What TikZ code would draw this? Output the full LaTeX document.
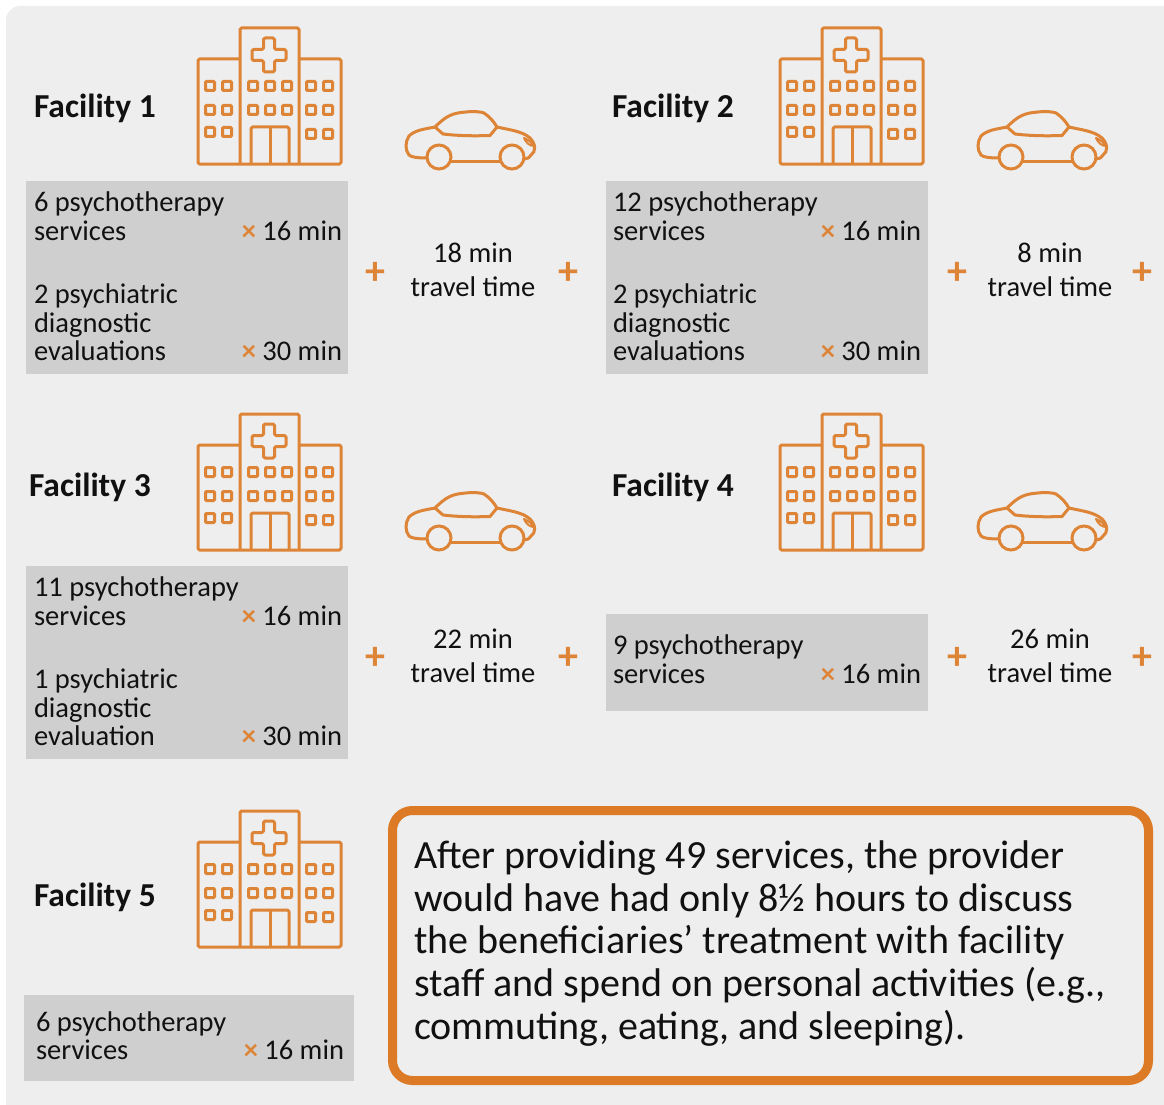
\documentclass[tikz,border=0pt]{standalone}
\usepackage{fontspec}
\setmainfont[Ligatures=TeX]{Carlito}
\definecolor{orng}{HTML}{DD8436}
\definecolor{callout}{HTML}{DC7A26}
\definecolor{panel}{HTML}{EEEEEE}
\definecolor{greybox}{HTML}{CFCFCF}
\definecolor{ink}{HTML}{111111}
\tikzset{
  x=1pt,y=-1pt,
  icon/.style={draw=orng,line width=3pt,line join=round,rounded corners=1.5pt,fill=none},
  winbox/.style={draw=orng,line width=3pt,rounded corners=1pt},
  greyrect/.style={fill=greybox,draw=none},
  bodytext/.style={inner sep=0pt,outer sep=0pt,anchor=base west,yshift=-1pt,font=\fontsize{28.5}{28.5}\selectfont,text=ink},
  mintext/.style={inner sep=0pt,outer sep=0pt,anchor=base east,yshift=-1pt,font=\fontsize{28.5}{28.5}\selectfont,text=ink},
  travel/.style={inner sep=0pt,outer sep=0pt,anchor=base,font=\fontsize{28.5}{34}\selectfont,text=ink},
  factitle/.style={inner sep=0pt,outer sep=0pt,anchor=base west,yshift=-1.5pt,font=\fontsize{33.5}{34}\selectfont\bfseries,text=ink},
  plussign/.style={inner sep=0pt,outer sep=0pt,yshift=-1pt,font=\fontsize{40}{40}\selectfont\bfseries,text=orng},
  calloutbox/.style={draw=callout,line width=9pt,rounded corners=20pt,fill=panel},
  callouttext/.style={inner sep=0pt,outer sep=0pt,anchor=base west,yshift=-1pt,font=\fontsize{40}{42.7}\selectfont,text=ink},
}
\newcommand{\hospitalicon}[2]{%
  \begin{scope}[shift={(#1,#2)}]
    \draw[icon] (240,59) -- (198,59) -- (198,164) -- (341,164) -- (341,59) -- (299,59);
    \draw[icon] (240,164) -- (240,28) -- (299,28) -- (299,164);
    \draw[icon] (263.5,38) -- (274.5,38) -- (274.5,49.5) -- (286,49.5) -- (286,60.5) -- (274.5,60.5) -- (274.5,72) -- (263.5,72) -- (263.5,60.5) -- (252,60.5) -- (252,49.5) -- (263.5,49.5) -- cycle;
    \foreach \wx in {210,227,253,270,287,311,328}
      \foreach \wy in {86,110} \draw[winbox] (\wx-4.5,\wy-4.5) rectangle (\wx+4.5,\wy+4.5);
    \foreach \wx in {210,227} \draw[winbox] (\wx-4.5,127.5) rectangle (\wx+4.5,136.5);
    \foreach \wx in {311,328} \draw[winbox] (\wx-4.5,129.5) rectangle (\wx+4.5,138.5);
    \draw[icon] (251,164) -- (251,127) -- (289,127) -- (289,164);
    \draw[icon] (270,127) -- (270,164);
  \end{scope}}
\newcommand{\caricon}[2]{%
  \begin{scope}[shift={(#1,#2)}]
    \draw[orng,line width=3pt,line join=round,line cap=round]
      (427,158) .. controls (417,158) and (411,157) .. (409,155)
      .. controls (405,150) and (405,142) .. (409,136)
      .. controls (415,130) and (425,129) .. (435,127)
      .. controls (446,116) and (452,113) .. (466,112)
      .. controls (474,111) and (482,112) .. (484,113)
      .. controls (490,117) and (494,122) .. (497,127)
      .. controls (510,130) and (522,131) .. (530,138)
      .. controls (536,144) and (536,152) .. (531,155)
      .. controls (529,158) and (527,159) .. (524,159);
    \draw[orng,line width=3pt,line cap=round] (451,161) -- (500,161);
    \draw[orng,line width=3pt,line join=round] (435,127) -- (443,134) .. controls (460,136) and (475,136) .. (490,135.5) -- (497,127);
    \draw[orng,line width=2pt,line cap=round] (524,138) .. controls (529,140) and (532,143) .. (534,146) .. controls (530,146) and (526,143) .. (524,138);
    \draw[orng,line width=3pt] (439,157) circle (12) (512,157) circle (12);
  \end{scope}}
\newcommand{\orngx}{{\color{orng}\textbf{×}}}
\begin{document}
\begin{tikzpicture}
\useasboundingbox (0,0) rectangle (1164,1105);
\fill[white] (0,0) rectangle (1164,1105);
\fill[panel,rounded corners=14pt] (6,6) rectangle (1190,1130);
\fill[white] (1164,0) rectangle (1190,1105);
\fill[white] (0,1105) rectangle (1190,1130);

\hospitalicon{0}{0}\hospitalicon{582}{0}
\hospitalicon{0}{386}\hospitalicon{582}{386}
\hospitalicon{0}{783}
\caricon{0}{0}\caricon{572}{0}
\caricon{0}{381}\caricon{572}{381}

\node[factitle] (f1) at (34,116) {Facility 1};
\node[factitle] (f2) at (612,116) {Facility 2};
\node[factitle] (f3) at (29,495) {Facility 3};
\node[factitle] (f4) at (612,495) {Facility 4};
\node[factitle] (f5) at (34,905) {Facility 5};

\fill[greyrect] (26,181) rectangle (348,374);
\fill[greyrect] (606,181) rectangle (928,374);
\fill[greyrect] (26,566) rectangle (348,759);
\fill[greyrect] (606,614) rectangle (928,711);
\fill[greyrect] (24,995) rectangle (354,1081);

% box 1
\node[bodytext] (a1) at (34,210) {6 psychotherapy};
\node[bodytext] (a2) at (34,239) {services};
\node[mintext] (a3) at (342,239) {\orngx\ 16 min};
\node[bodytext] (a4) at (34,302) {2 psychiatric};
\node[bodytext] (a5) at (34,331) {diagnostic};
\node[bodytext] (a6) at (34,359) {evaluations};
\node[mintext] (a7) at (342,359) {\orngx\ 30 min};
% box 2
\node[bodytext] (b1) at (613,210) {12 psychotherapy};
\node[bodytext] (b2) at (613,239) {services};
\node[mintext] (b3) at (921,239) {\orngx\ 16 min};
\node[bodytext] (b4) at (613,302) {2 psychiatric};
\node[bodytext] (b5) at (613,331) {diagnostic};
\node[bodytext] (b6) at (613,359) {evaluations};
\node[mintext] (b7) at (921,359) {\orngx\ 30 min};
% box 3
\node[bodytext] (c1) at (34,595) {11 psychotherapy};
\node[bodytext] (c2) at (34,624) {services};
\node[mintext] (c3) at (342,624) {\orngx\ 16 min};
\node[bodytext] (c4) at (34,687) {1 psychiatric};
\node[bodytext] (c5) at (34,716) {diagnostic};
\node[bodytext] (c6) at (34,744) {evaluation};
\node[mintext] (c7) at (342,744) {\orngx\ 30 min};
% box 4
\node[bodytext] (d1) at (613,653) {9 psychotherapy};
\node[bodytext] (d2) at (613,682) {services};
\node[mintext] (d3) at (921,682) {\orngx\ 16 min};
% box 5
\node[bodytext] (e1) at (36,1030) {6 psychotherapy};
\node[bodytext] (e2) at (36,1058) {services};
\node[mintext] (e3) at (344,1058) {\orngx\ 16 min};

% travel
\node[travel] (t1a) at (473,262) {18 min};
\node[travel] (t1b) at (473,296) {travel time};
\node[travel] (t2a) at (1050,262) {8 min};
\node[travel] (t2b) at (1050,296) {travel time};
\node[travel] (t3a) at (473,648) {22 min};
\node[travel] (t3b) at (473,682) {travel time};
\node[travel] (t4a) at (1050,648) {26 min};
\node[travel] (t4b) at (1050,682) {travel time};

% plus
\node[plussign] (p1) at (375,272) {+};
\node[plussign] (p2) at (568,272) {+};
\node[plussign] (p3) at (957,272) {+};
\node[plussign] (p4) at (1142,272) {+};
\node[plussign] (p5) at (375,657) {+};
\node[plussign] (p6) at (568,657) {+};
\node[plussign] (p7) at (957,657) {+};
\node[plussign] (p8) at (1142,657) {+};

% callout
\draw[calloutbox] (392.5,810.5) rectangle (1148.5,1080.5);
\node[callouttext] (g1) at (414,867) {After providing 49 services, the provider};
\node[callouttext] (g2) at (414,910) {would have had only 8½ hours to discuss};
\node[callouttext] (g3) at (414,952) {the beneficiaries’ treatment with facility};
\node[callouttext] (g4) at (414,995) {staff and spend on personal activities (e.g.,};
\node[callouttext] (g5) at (414,1038) {commuting, eating, and sleeping).};
\end{tikzpicture}
\end{document}
